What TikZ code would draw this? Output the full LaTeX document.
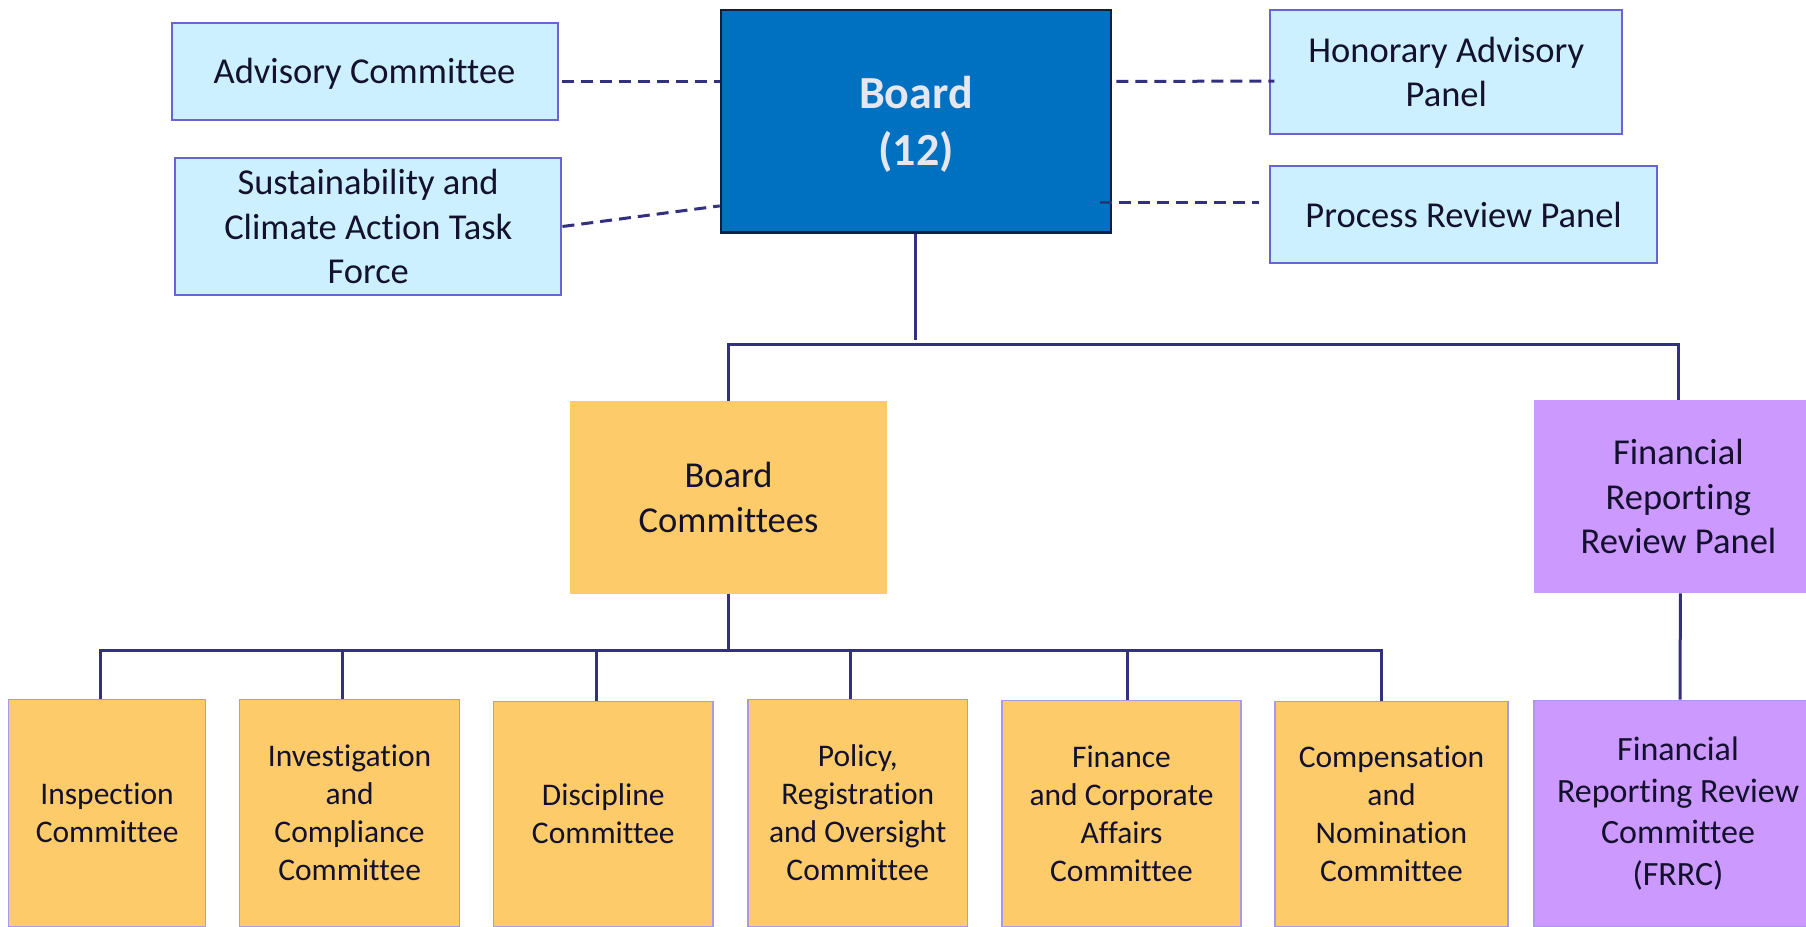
\documentclass[tikz,border=0pt]{standalone}
\usepackage{fontspec}
\setmainfont[Ligatures=NoCommon]{Carlito}
\definecolor{boardblue}{HTML}{0070C0}
\definecolor{boardedge}{HTML}{0F1F3F}
\definecolor{lightblue}{HTML}{CCF0FF}
\definecolor{blueedge}{HTML}{6B62D8}
\definecolor{orangefill}{HTML}{FDCB69}
\definecolor{orangeedge}{HTML}{A59BEA}
\definecolor{purplefill}{HTML}{CC99FF}
\definecolor{linecol}{HTML}{33307F}
\definecolor{txt}{HTML}{13112E}
\definecolor{boardtxt}{HTML}{E6E6EE}
\tikzset{
  box/.style={rectangle, inner sep=0pt, align=center, text=txt, anchor=center},
  topbox/.style={box, fill=lightblue, draw=blueedge, line width=2pt, font=\fontsize{36.5}{44.5}\selectfont},
  boardbox/.style={box, fill=boardblue, draw=boardedge, line width=2.5pt, text=boardtxt, font=\fontsize{46}{57}\selectfont\bfseries},
  orangebig/.style={box, fill=orangefill, font=\fontsize{36.5}{44.5}\selectfont},
  purplebig/.style={box, fill=purplefill, font=\fontsize{36.5}{44.5}\selectfont},
  lowbox/.style={box, fill=orangefill, draw=orangeedge, line width=1.5pt, font=\fontsize{31.5}{38}\selectfont},
  frrcbox/.style={box, fill=purplefill, draw=orangeedge, line width=1.5pt, font=\fontsize{34}{41.5}\selectfont},
  conn/.style={draw=linecol, line width=3pt},
  dashline/.style={draw=linecol, line width=3pt, dash pattern=on 12pt off 7pt},
}
\begin{document}
\begin{tikzpicture}[x=1pt,y=-1pt]
\clip (0,0) rectangle (1806,926);
\fill[white] (0,0) rectangle (1806,926);

% top row
\node[topbox, minimum width=386pt, minimum height=97pt, text depth=0pt] (adv) at (364.5,71.2) {Advisory Committee};
\node[topbox, minimum width=386.5pt, minimum height=136.3pt] (sus) at (368.2,226.5) {Sustainability and\\Climate Action Task\\Force};
\node[boardbox, minimum width=390pt, minimum height=222.7pt, text depth=0pt] (board) at (916,121.3) {Board\\(12)};
\node[topbox, minimum width=352pt, minimum height=124.3pt] (hon) at (1446.3,72.2) {Honorary Advisory\\Panel};
\node[topbox, minimum width=386.5pt, minimum height=97.3pt] (proc) at (1463.6,214.8) {Process Review Panel};

% middle row
\node[orangebig, minimum width=317pt, minimum height=192.7pt] (bc) at (728.5,497.3) {Board\\Committees};
\node[purplebig, minimum width=288pt, minimum height=192.7pt] (frrp) at (1678.4,496.8) {Financial\\Reporting\\Review Panel};

% bottom row
\node[lowbox, minimum width=197pt, minimum height=226.7pt] (insp) at (107.1,813) {Inspection\\Committee};
\node[lowbox, minimum width=220pt, minimum height=226.7pt] (inv) at (349.6,813) {Investigation\\and\\Compliance\\Committee};
\node[lowbox, minimum width=219.4pt, minimum height=225pt] (disc) at (603.3,813.8) {Discipline\\Committee};
\node[lowbox, minimum width=219.5pt, minimum height=226.7pt] (pol) at (857.8,813) {Policy,\\Registration\\and Oversight\\Committee};
\node[lowbox, minimum width=239pt, minimum height=226pt] (fin) at (1121.5,813.3) {Finance\\and Corporate\\Affairs\\Committee};
\node[lowbox, minimum width=233pt, minimum height=225pt] (comp) at (1391.5,813.8) {Compensation\\and\\Nomination\\Committee};
\node[frrcbox, minimum width=288pt, minimum height=226pt] (frrc) at (1678,813.3) {Financial\\Reporting Review\\Committee\\(FRRC)};

% dashed links
\draw[dashline] ([shift={(3,10)}]adv.east) -- ([shift={(0,10)}]adv.east -| board.west);
\draw[dashline] (sus.east) -- ([shift={(0,-28)}]board.south west);
\draw[dashline] ([shift={(4,-40)}]board.east) -- ([shift={(5,9)}]hon.west);
\draw[dashline] ([shift={(-12,81)}]board.east) -- ([shift={(-10,-12.5)}]proc.west);

% board to second row
\coordinate (tb) at (915.7,344);
\coordinate (tbv) at (915.7,340);
\draw[conn] (board.south -| tbv) -- (tbv);
\draw[conn] (bc.north) -- (bc.north |- tb) -- (frrp.north |- tb) -- (frrp.north);

% frrp to frrc
\draw[conn] ([xshift=2pt]frrp.south) -- ([xshift=2pt]frrc.north);

% board committees bus
\coordinate (b1) at (100.8,650.7);
\coordinate (b2) at (342,650.7);
\coordinate (b3) at (596,650.7);
\coordinate (b4) at (850,650.7);
\coordinate (b5) at (1127.6,650.7);
\coordinate (b6) at (1381.6,650.7);
\draw[conn] (bc.south) -- (bc.south |- b1);
\draw[conn] (b1 |- insp.north) -- (b1) -- (b6) -- (b6 |- comp.north);
\draw[conn] (b2) -- (b2 |- inv.north);
\draw[conn] (b3) -- (b3 |- disc.north);
\draw[conn] (b4) -- (b4 |- pol.north);
\draw[conn] (b5) -- (b5 |- fin.north);
\end{tikzpicture}
\end{document}
